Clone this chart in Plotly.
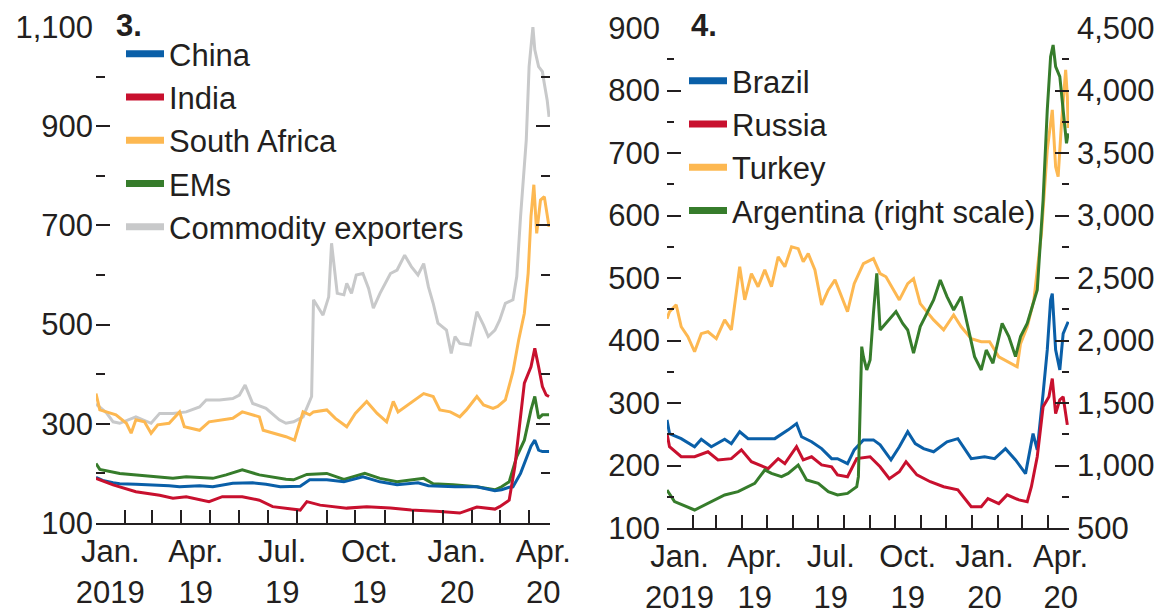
import pandas as pd
import plotly.graph_objects as go

# -- panel 3: sovereign spreads, basis points ---------------------------------
china_x = ["2019-01-01", "2019-01-08", "2019-01-19", "2019-01-26", "2019-02-12", "2019-03-02",
           "2019-03-19", "2019-03-30", "2019-04-20", "2019-05-04", "2019-05-25", "2019-06-15",
           "2019-06-29", "2019-07-14", "2019-08-04", "2019-08-14", "2019-09-01", "2019-09-19",
           "2019-10-09", "2019-10-27", "2019-11-14", "2019-12-06", "2019-12-17", "2020-01-14",
           "2020-02-06", "2020-02-25", "2020-03-03", "2020-03-11", "2020-03-15", "2020-03-23",
           "2020-03-31", "2020-04-03", "2020-04-07", "2020-04-11", "2020-04-15", "2020-04-22"]
china_y = [192, 186, 181, 179, 178, 177, 175, 173, 175, 173, 180, 181, 178, 173, 174, 187, 187, 183,
           193, 183, 177, 181, 175, 173, 173, 165, 167, 172, 173, 200, 240, 255, 267, 247, 244, 244]

india_x = ["2019-01-01", "2019-01-19", "2019-02-12", "2019-03-09", "2019-03-23", "2019-04-06",
           "2019-04-30", "2019-05-14", "2019-06-04", "2019-06-22", "2019-07-06", "2019-07-20",
           "2019-08-04", "2019-08-11", "2019-08-25", "2019-09-22", "2019-10-13", "2019-11-07",
           "2019-11-29", "2019-12-29", "2020-01-19", "2020-02-06", "2020-02-25", "2020-03-01",
           "2020-03-11", "2020-03-17", "2020-03-21", "2020-03-27", "2020-04-03", "2020-04-07",
           "2020-04-11", "2020-04-15", "2020-04-19", "2020-04-22"]
india_y = [190, 177, 163, 156, 150, 153, 143, 153, 153, 146, 133, 130, 126, 143, 136, 130, 133, 130,
           126, 123, 120, 132, 128, 133, 146, 214, 281, 382, 415, 452, 415, 375, 358, 355]

safrica_x = ["2019-01-01", "2019-01-05", "2019-01-12", "2019-01-22", "2019-02-02", "2019-02-07",
             "2019-02-12", "2019-02-21", "2019-02-28", "2019-03-07", "2019-03-19", "2019-03-30",
             "2019-04-04", "2019-04-20", "2019-04-30", "2019-05-14", "2019-05-25", "2019-06-04",
             "2019-06-15", "2019-06-22", "2019-06-26", "2019-07-06", "2019-07-20", "2019-07-29",
             "2019-08-07", "2019-08-14", "2019-08-18", "2019-09-01", "2019-09-10", "2019-09-22",
             "2019-10-01", "2019-10-13", "2019-10-24", "2019-11-03", "2019-11-10", "2019-11-15",
             "2019-11-27", "2019-12-12", "2019-12-22", "2019-12-29", "2020-01-09", "2020-01-19",
             "2020-01-26", "2020-02-06", "2020-02-13", "2020-02-23", "2020-02-28", "2020-03-07",
             "2020-03-15", "2020-03-21", "2020-03-27", "2020-03-31", "2020-04-03", "2020-04-06",
             "2020-04-09", "2020-04-13", "2020-04-17", "2020-04-20", "2020-04-22"]
safrica_y = [361, 328, 324, 318, 301, 281, 308, 304, 281, 298, 301, 324, 294, 287, 304, 308, 311, 324,
             318, 314, 287, 281, 274, 267, 324, 318, 324, 328, 311, 294, 321, 345, 321, 304, 345, 324,
             341, 361, 355, 328, 324, 314, 328, 355, 338, 331, 335, 348, 405, 469, 523, 603, 718, 782,
             684, 751, 758, 718, 697]

ems_x = ["2019-01-01", "2019-01-05", "2019-01-26", "2019-03-02", "2019-03-23", "2019-04-06",
         "2019-05-04", "2019-05-18", "2019-06-04", "2019-06-22", "2019-07-20", "2019-07-28",
         "2019-08-11", "2019-09-01", "2019-09-19", "2019-10-11", "2019-10-27", "2019-11-14",
         "2019-12-12", "2019-12-22", "2020-01-12", "2020-02-06", "2020-02-25", "2020-03-03",
         "2020-03-11", "2020-03-19", "2020-03-27", "2020-04-03", "2020-04-07", "2020-04-11",
         "2020-04-15", "2020-04-22"]
ems_y = [220, 208, 200, 193, 190, 193, 190, 197, 207, 197, 188, 187, 198, 200, 188, 200, 190, 183,
         190, 179, 177, 173, 167, 173, 183, 234, 267, 328, 355, 311, 318, 318]

commod_x = ["2019-01-01", "2019-01-12", "2019-01-19", "2019-01-26", "2019-02-12", "2019-02-28",
            "2019-03-09", "2019-03-23", "2019-04-06", "2019-04-20", "2019-04-27", "2019-05-11",
            "2019-05-25", "2019-06-01", "2019-06-07", "2019-06-15", "2019-06-29", "2019-07-13",
            "2019-07-20", "2019-07-28", "2019-08-07", "2019-08-14", "2019-08-16", "2019-08-18",
            "2019-08-25", "2019-08-28", "2019-09-03", "2019-09-06", "2019-09-12", "2019-09-19",
            "2019-09-22", "2019-09-27", "2019-10-02", "2019-10-09", "2019-10-15", "2019-10-20",
            "2019-10-27", "2019-11-07", "2019-11-14", "2019-11-22", "2019-11-29", "2019-12-06",
            "2019-12-12", "2019-12-17", "2019-12-22", "2019-12-27", "2020-01-05", "2020-01-10",
            "2020-01-14", "2020-01-19", "2020-01-30", "2020-02-06", "2020-02-13", "2020-02-18",
            "2020-02-25", "2020-03-01", "2020-03-07", "2020-03-15", "2020-03-19", "2020-03-23",
            "2020-03-29", "2020-04-01", "2020-04-05", "2020-04-07", "2020-04-11", "2020-04-15",
            "2020-04-17", "2020-04-20", "2020-04-22"]
commod_y = [340, 322, 304, 301, 314, 301, 321, 321, 324, 334, 348, 348, 351, 358, 378, 341, 331, 308,
            301, 304, 314, 348, 355, 550, 529, 519, 556, 664, 563, 560, 583, 563, 600, 603, 573, 533,
            563, 603, 610, 640, 617, 600, 623, 576, 543, 503, 489, 442, 476, 462, 459, 526, 499, 476,
            489, 509, 543, 550, 597, 718, 872, 1020, 1100, 1054, 1020, 1010, 986, 953, 919]

# -- panel 4 -----------------------------------------------------------------
brazil_x = ["2019-01-01", "2019-01-04", "2019-01-18", "2019-02-03", "2019-02-11", "2019-02-23",
            "2019-03-11", "2019-03-19", "2019-03-29", "2019-04-08", "2019-04-24", "2019-05-10",
            "2019-05-26", "2019-06-05", "2019-06-11", "2019-06-23", "2019-07-05", "2019-07-17",
            "2019-07-24", "2019-08-05", "2019-08-13", "2019-08-24", "2019-09-05", "2019-09-13",
            "2019-09-26", "2019-10-06", "2019-10-16", "2019-10-25", "2019-11-04", "2019-11-16",
            "2019-12-02", "2019-12-15", "2019-12-31", "2020-01-16", "2020-01-28", "2020-02-10",
            "2020-02-22", "2020-03-03", "2020-03-05", "2020-03-14", "2020-03-19", "2020-03-26",
            "2020-03-31", "2020-04-04", "2020-04-06", "2020-04-10", "2020-04-15", "2020-04-19",
            "2020-04-25"]
brazil_y = [273, 251, 243, 230, 242, 230, 242, 235, 254, 243, 243, 243, 257, 267, 246, 238, 227, 211,
            211, 203, 225, 241, 241, 233, 209, 230, 254, 235, 227, 222, 238, 243, 211, 214, 211, 227,
            209, 190, 187, 251, 225, 315, 385, 465, 475, 385, 353, 411, 430]

russia_x = ["2019-01-01", "2019-01-04", "2019-01-18", "2019-02-03", "2019-02-19", "2019-03-03",
            "2019-03-19", "2019-03-31", "2019-04-12", "2019-05-02", "2019-05-14", "2019-05-22",
            "2019-06-05", "2019-06-13", "2019-06-23", "2019-07-05", "2019-07-17", "2019-07-24",
            "2019-08-05", "2019-08-16", "2019-09-01", "2019-09-13", "2019-09-24", "2019-10-06",
            "2019-10-14", "2019-10-27", "2019-11-12", "2019-11-28", "2019-12-15", "2019-12-31",
            "2020-01-12", "2020-01-20", "2020-02-02", "2020-02-12", "2020-02-26", "2020-03-07",
            "2020-03-12", "2020-03-19", "2020-03-26", "2020-04-02", "2020-04-06", "2020-04-10",
            "2020-04-15", "2020-04-19", "2020-04-24"]
russia_y = [251, 230, 214, 214, 222, 209, 211, 225, 206, 195, 211, 203, 230, 209, 214, 201, 198, 185,
            182, 211, 214, 198, 179, 190, 206, 185, 174, 166, 161, 134, 134, 147, 139, 153, 145, 142,
            166, 214, 294, 310, 339, 283, 305, 310, 265]

turkey_x = ["2019-01-01", "2019-01-04", "2019-01-12", "2019-01-18", "2019-01-26", "2019-02-03",
            "2019-02-11", "2019-02-19", "2019-03-01", "2019-03-11", "2019-03-19", "2019-03-29",
            "2019-04-04", "2019-04-12", "2019-04-20", "2019-04-28", "2019-05-06", "2019-05-14",
            "2019-05-22", "2019-05-30", "2019-06-07", "2019-06-13", "2019-06-19", "2019-06-27",
            "2019-07-05", "2019-07-13", "2019-07-21", "2019-08-05", "2019-08-13", "2019-08-24",
            "2019-09-05", "2019-09-13", "2019-09-20", "2019-10-06", "2019-10-16", "2019-10-23",
            "2019-10-31", "2019-11-16", "2019-11-28", "2019-12-10", "2019-12-19", "2019-12-31",
            "2020-01-12", "2020-01-22", "2020-02-02", "2020-02-14", "2020-02-24", "2020-02-28",
            "2020-03-07", "2020-03-15", "2020-03-24", "2020-03-31", "2020-04-06", "2020-04-10",
            "2020-04-13", "2020-04-17", "2020-04-22", "2020-04-24", "2020-04-25"]
turkey_y = [435, 446, 457, 422, 406, 382, 411, 414, 403, 433, 417, 518, 465, 507, 486, 513, 486, 534,
            518, 550, 547, 526, 539, 513, 457, 481, 497, 446, 491, 523, 531, 507, 502, 465, 491, 499,
            459, 433, 417, 441, 422, 403, 398, 398, 374, 366, 358, 395, 422, 465, 571, 705, 769, 678,
            662, 747, 833, 790, 740]

argentina_x = ["2019-01-01", "2019-01-10", "2019-02-03", "2019-02-19", "2019-03-11", "2019-03-27",
               "2019-04-16", "2019-04-28", "2019-05-06", "2019-05-18", "2019-05-26", "2019-06-07",
               "2019-06-17", "2019-07-01", "2019-07-13", "2019-07-24", "2019-08-05", "2019-08-16",
               "2019-08-18", "2019-08-22", "2019-08-24", "2019-08-28", "2019-09-01", "2019-09-05",
               "2019-09-09", "2019-09-13", "2019-09-20", "2019-09-26", "2019-10-02", "2019-10-10",
               "2019-10-16", "2019-10-23", "2019-10-31", "2019-11-06", "2019-11-16", "2019-11-24",
               "2019-12-02", "2019-12-10", "2019-12-19", "2019-12-27", "2020-01-04", "2020-01-12",
               "2020-01-18", "2020-01-26", "2020-02-06", "2020-02-14", "2020-02-22", "2020-02-28",
               "2020-03-07", "2020-03-19", "2020-03-26", "2020-03-31", "2020-04-04", "2020-04-07",
               "2020-04-10", "2020-04-15", "2020-04-19", "2020-04-23", "2020-04-25"]
argentina_y = [804, 711, 644, 697, 764, 791, 857, 964, 937, 911, 937, 1004, 884, 857, 791, 764, 777,
               831, 911, 1951, 1871, 1764, 1844, 2217, 2538, 2084, 2137, 2191, 2231, 2137, 2084, 1898,
               2111, 2191, 2324, 2484, 2351, 2244, 2351, 2111, 1871, 1764, 1924, 1818, 2137, 2031, 1871,
               2031, 2137, 2404, 3124, 3844, 4271, 4364, 4191, 4111, 3844, 3578, 3658]

# x-axis labels sit in the middle of the month
tick_mid = ["2019-01-16", "2019-04-16", "2019-07-16", "2019-10-16", "2020-01-16", "2020-04-16"]
tick_txt = ["Jan.<br>2019", "Apr.<br>19", "Jul.<br>19", "Oct.<br>19", "Jan.<br>20", "Apr.<br>20"]
month_starts = list(pd.date_range("2019-01-01", "2020-04-01", freq="MS"))

BLUE = "#0a5fa8"
RED = "#c8102e"
ORANGE = "#fdb851"
GREEN = "#367c2b"
GRAY = "#c8c9ca"
INK = "#231f20"
FONT = "Liberation Sans, Arial, sans-serif"
FS = 31

W, H = 1155, 616

fig = go.Figure()

left = [("Commodity exporters", commod_x, commod_y, GRAY),
        ("South Africa", safrica_x, safrica_y, ORANGE),
        ("EMs", ems_x, ems_y, GREEN),
        ("China", china_x, china_y, BLUE),
        ("India", india_x, india_y, RED)]
for name, xs, ys, col in left:
    fig.add_trace(go.Scatter(x=xs, y=ys, mode="lines", line=dict(color=col, width=3),
                             showlegend=False, xaxis="x", yaxis="y"))

# legend-only entries (thicker swatches)
for name, col in [("China", BLUE), ("India", RED), ("South Africa", ORANGE),
                  ("EMs", GREEN), ("Commodity exporters", GRAY)]:
    fig.add_trace(go.Scatter(x=[None], y=[None], mode="lines", name=name,
                             line=dict(color=col, width=7), legend="legend",
                             xaxis="x", yaxis="y"))

fig.add_trace(go.Scatter(x=argentina_x, y=argentina_y, mode="lines", line=dict(color=GREEN, width=3),
                         showlegend=False, xaxis="x2", yaxis="y3"))
for xs, ys, col in [(turkey_x, turkey_y, ORANGE), (brazil_x, brazil_y, BLUE), (russia_x, russia_y, RED)]:
    fig.add_trace(go.Scatter(x=xs, y=ys, mode="lines", line=dict(color=col, width=3),
                             showlegend=False, xaxis="x2", yaxis="y2"))

for name, col in [("Brazil", BLUE), ("Russia", RED), ("Turkey", ORANGE),
                  ("Argentina (right scale)", GREEN)]:
    fig.add_trace(go.Scatter(x=[None], y=[None], mode="lines", name=name,
                             line=dict(color=col, width=7), legend="legend2",
                             xaxis="x2", yaxis="y2"))

xcommon = dict(type="date", showline=True, linecolor=INK, linewidth=2, showgrid=False,
               zeroline=False, ticks="inside", ticklen=0, tickcolor="rgba(0,0,0,0)",
               tickvals=tick_mid, ticktext=tick_txt, tickangle=0, automargin=False,
               tickfont=dict(family=FONT, size=FS, color=INK),
               minor=dict(tickvals=month_starts, ticks="inside", ticklen=13, tickwidth=2,
                          tickcolor=INK, showgrid=False))
ycommon = dict(showline=False, showgrid=False, zeroline=False, ticks="inside", ticklen=14,
               tickwidth=2, tickcolor=INK, tickformat=",", automargin=False,
               tickfont=dict(family=FONT, size=FS, color=INK))

fig.update_layout(
    template="none",
    width=W, height=H,
    margin=dict(l=0, r=0, t=0, b=0, autoexpand=False),
    paper_bgcolor="white", plot_bgcolor="white",
    font=dict(family=FONT, size=FS, color=INK),
    xaxis=dict(xcommon, domain=[96 / W, 550 / W], range=["2019-01-01", "2020-04-23"], anchor="y"),
    yaxis=dict(ycommon, domain=[1 - 523 / H, 1 - 27 / H], range=[100, 1100],
               tickvals=list(range(100, 1101, 200)), mirror="ticks", anchor="x",
               ticklabelstandoff=2,
               minor=dict(tickvals=list(range(200, 1001, 200)), ticks="inside", ticklen=9,
                          tickwidth=2, tickcolor=INK, showgrid=False)),
    xaxis2=dict(xcommon, domain=[667 / W, 1069 / W], range=["2019-01-01", "2020-04-26"], anchor="y2"),
    yaxis2=dict(ycommon, domain=[1 - 528 / H, 1 - 28 / H], range=[100, 900],
                tickvals=list(range(100, 901, 100)), anchor="x2", ticklabelstandoff=6,
                minor=dict(tickvals=list(range(150, 851, 100)), ticks="inside", ticklen=7,
                           tickwidth=2, tickcolor=INK, showgrid=False)),
    yaxis3=dict(ycommon, range=[500, 4500], overlaying="y2", side="right", anchor="x2",
                tickvals=list(range(500, 4501, 500)), ticklabelstandoff=7,
                minor=dict(tickvals=list(range(750, 4251, 500)), ticks="inside", ticklen=7,
                           tickwidth=2, tickcolor=INK, showgrid=False)),
    legend=dict(x=121 / W, xanchor="left", y=1 - 27 / H, yanchor="top", bgcolor="rgba(0,0,0,0)",
                font=dict(family=FONT, size=FS, color=INK), itemwidth=38, traceorder="normal"),
    legend2=dict(x=684 / W, xanchor="left", y=1 - 54 / H, yanchor="top", bgcolor="rgba(0,0,0,0)",
                 font=dict(family=FONT, size=FS, color=INK), itemwidth=38, traceorder="normal"),
    annotations=[
        dict(text="<b>3.</b>", x=114 / W, y=1 - 25 / H, xref="paper", yref="paper",
             xanchor="left", yanchor="middle", showarrow=False, font=dict(size=FS, color=INK)),
        dict(text="<b>4.</b>", x=689 / W, y=1 - 25 / H, xref="paper", yref="paper",
             xanchor="left", yanchor="middle", showarrow=False, font=dict(size=FS, color=INK)),
    ],
)

# the page body has a default 8px margin; drop it so the figure fills the window
fig.write_html("out.html", config={"displayModeBar": False},
               post_script="document.body.style.margin = '0';")
